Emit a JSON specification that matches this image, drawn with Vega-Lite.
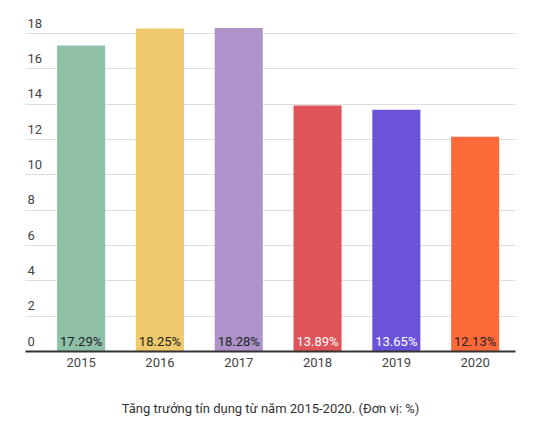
{
  "$schema": "https://vega.github.io/schema/vega-lite/v6.json",
  "width": 490,
  "height": 318,
  "autosize": "none",
  "padding": {"left": 25, "top": 33, "right": 23, "bottom": 80},
  "background": "white",
  "config": {
    "view": {"stroke": null},
    "font": "Roboto",
    "axisY": {
      "title": null,
      "values": [0, 2, 4, 6, 8, 10, 12, 14, 16, 18],
      "labelOverlap": false,
      "domain": false,
      "ticks": false,
      "tickSize": 0,
      "labelAlign": "left",
      "labelBaseline": "bottom",
      "labelPadding": -2,
      "labelOffset": -3,
      "labelFontSize": 13,
      "labelColor": "#444",
      "gridColor": "#dddddd",
      "gridWidth": 1
    }
  },
  "data": {
    "values": [
      {"year": "2015", "growth": 17.29},
      {"year": "2016", "growth": 18.25},
      {"year": "2017", "growth": 18.28},
      {"year": "2018", "growth": 13.89},
      {"year": "2019", "growth": 13.65},
      {"year": "2020", "growth": 12.13}
    ]
  },
  "encoding": {
    "x": {
      "field": "year",
      "type": "ordinal",
      "scale": {"paddingInner": 0.39, "paddingOuter": 0.304, "align": 0.67},
      "axis": {
        "title": "Tăng trưởng tín dụng từ năm 2015-2020. (Đơn vị: %)",
        "titleFont": "Roboto",
        "titleFontSize": 13,
        "titleFontWeight": "normal",
        "titleColor": "#333",
        "titlePadding": 33,
        "labelAngle": 0,
        "labelFontSize": 13,
        "labelColor": "#444",
        "labelPadding": 5,
        "ticks": false,
        "domainColor": "#333",
        "domainWidth": 2,
        "zindex": 1
      }
    }
  },
  "layer": [
    {
      "mark": {"type": "bar"},
      "encoding": {
        "y": {
          "field": "growth",
          "type": "quantitative",
          "title": null,
          "scale": {"domain": [0, 18], "nice": false},
          "axis": {"values": [0, 2, 4, 6, 8, 10, 12, 14, 16, 18], "labelOverlap": false}
        },
        "color": {
          "field": "year",
          "type": "nominal",
          "legend": null,
          "scale": {
            "domain": ["2015", "2016", "2017", "2018", "2019", "2020"],
            "range": ["#8fc1a8", "#efc96b", "#ad93c9", "#de5458", "#6c52d8", "#fd6a39"]
          }
        }
      }
    },
    {
      "mark": {
        "type": "text",
        "baseline": "bottom",
        "dy": -2,
        "fontSize": 13,
        "fontWeight": "normal",
        "text": {"expr": "format(datum.growth, '.2f') + '%'"}
      },
      "encoding": {
        "y": {
          "datum": 0,
          "type": "quantitative",
          "title": null,
          "axis": {"values": [0, 2, 4, 6, 8, 10, 12, 14, 16, 18], "labelOverlap": false}
        },
        "color": {
          "condition": {"test": "datum.year === '2018' || datum.year === '2019'", "value": "white"},
          "value": "#222"
        }
      }
    }
  ]
}
